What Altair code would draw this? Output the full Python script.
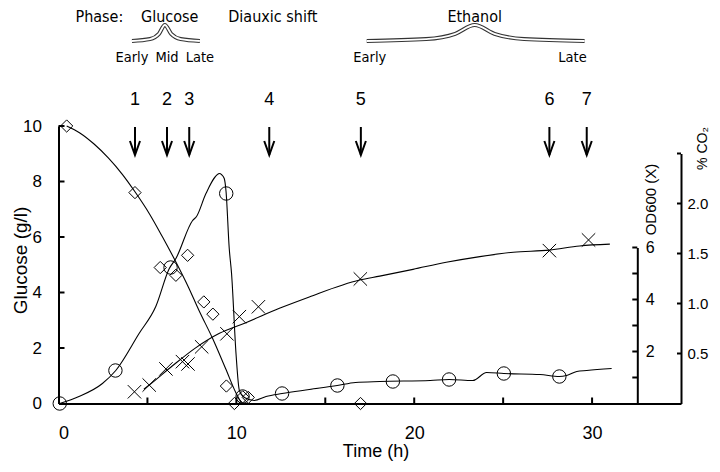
import altair as alt
import pandas as pd

# ---------------- data ----------------
# Glucose (g/l) measurements (diamonds)
glc_t = [0.46, 4.3, 5.72, 6.6, 7.26, 8.17, 8.68, 9.44, 9.89, 10.36, 10.67, 16.98]
glc_v = [10.0, 7.6, 4.9, 4.62, 5.34, 3.66, 3.22, 0.63, 0.0, 0.24, 0.22, 0.0]
# Glucose fitted curve
glc_fit_t = [0.46, 1.2, 2.0, 2.8, 3.6, 4.3, 5.1, 5.85, 6.6, 7.3, 7.9, 8.66, 9.4, 10.0, 10.3]
glc_fit_v = [10.0, 9.75, 9.35, 8.85, 8.25, 7.63, 6.85, 6.0, 5.1, 4.2, 3.35, 2.35, 1.25, 0.35, 0.0]

# CO2 (%) measurements (circles)
co2_t = [0.07, 3.2, 6.3, 9.43, 10.35, 12.57, 15.68, 18.8, 21.96, 25.04, 28.16]
co2_v = [0.0, 0.33, 1.36, 2.1, 0.07, 0.10, 0.18, 0.22, 0.24, 0.30, 0.27]
# CO2 continuous trace
co2_line_t = [0.07, 1.15, 2.47, 3.22, 4.53, 5.47, 6.23, 6.6, 7.54, 7.76, 8.29, 9.07, 9.16,
              9.32, 9.42, 9.6, 9.73, 9.98, 10.17, 10.45, 11.0, 11.67, 12.57, 14.1, 15.67,
              16.7, 18.06, 20.9, 21.96, 23.3, 24.07, 25.04, 27.07, 28.16, 28.57, 29.14, 29.7, 31.1]
co2_line_v = [0.0, 0.07, 0.2, 0.33, 0.70, 0.97, 1.35, 1.45, 1.83, 1.87, 2.1, 2.3, 2.29,
              2.25, 2.12, 1.55, 1.3, 0.5, 0.13, 0.06, 0.03, 0.07, 0.10, 0.14, 0.18,
              0.21, 0.22, 0.23, 0.24, 0.23, 0.31, 0.30, 0.29, 0.27, 0.28, 0.32, 0.33, 0.35]

# OD600 measurements (crosses)
od_t = [4.27, 5.1, 6.04, 6.97, 7.28, 8.05, 9.47, 10.17, 11.24, 16.97, 27.6, 29.8]
od_v = [0.45, 0.71, 1.33, 1.61, 1.52, 2.18, 2.68, 3.34, 3.72, 4.79, 5.88, 6.29]
# OD600 fitted curve
od_fit_t = [4.8, 5.1, 6.41, 7.73, 9.05, 10.5, 12.42, 14.1, 16.93, 18.06, 19.93, 21.8,
            23.69, 25.57, 27.6, 29.3, 31.0]
od_fit_v = [0.55, 0.71, 1.45, 2.15, 2.7, 3.1, 3.66, 4.1, 4.75, 4.9, 5.16, 5.43,
            5.65, 5.82, 5.9, 6.06, 6.13]

# Sampling points (arrows)
sample_t = [4.3, 6.1, 7.35, 11.85, 17.0, 27.6, 29.7]
sample_lbl = ["1", "2", "3", "4", "5", "6", "7"]

# Phase annotation
phase_t = [2.3, 6.25, 12.05, 23.4]
phase_lbl = ["Phase:", "Glucose", "Diauxic shift", "Ethanol"]
sub_t = [4.13, 6.1, 7.95, 17.5, 28.9]
sub_lbl = ["Early", "Mid", "Late", "Early", "Late"]
brace_phase = ["Glucose", "Ethanol"]
brace_start = [4.13, 17.33]
brace_peak = [5.98, 23.4]
brace_end = [7.95, 29.58]

# Axis tick values
x_ticks = [5, 10, 15, 20, 25, 30]
x_labels = [0, 10, 20, 30]
glc_ticks = [2, 4, 6, 8, 10]
od_ticks = [1, 2, 3, 4, 5, 6]
co2_ticks = [0.5, 1.0, 1.5, 2.0, 2.5]

# ---------------- layout ----------------
W, H = 622.5, 395.5
OD_OFF = -43.7
FONT = "Liberation Sans, Arial, Helvetica, sans-serif"
NARROW = "Liberation Sans Narrow, Arial Narrow, DejaVu Sans Condensed, sans-serif"

xsc = alt.Scale(domain=[0, 35], nice=False, zero=False)
glc_sc = alt.Scale(domain=[0, 10], range=[H, H - 277.5], nice=False)
od_sc = alt.Scale(domain=[0, 6], range=[H, H - 156], nice=False)
co2_sc = alt.Scale(domain=[0, 2.5], range=[H, H - 250], nice=False)
brace_sc = alt.Scale(domain=[0, 1], range=[33, 17], nice=False)

df_glc = pd.DataFrame({"t": glc_t, "glc": glc_v})
df_glc_fit = pd.DataFrame({"t": glc_fit_t, "glc": glc_fit_v})
df_co2 = pd.DataFrame({"t": co2_t, "co2": co2_v})
df_co2_line = pd.DataFrame({"t": co2_line_t, "co2": co2_line_v})
df_od = pd.DataFrame({"t": od_t, "od": od_v})
df_od_fit = pd.DataFrame({"t": od_fit_t, "od": od_fit_v})

x_axis = alt.Axis(orient="bottom", values=x_labels, format="d", ticks=False, tickSize=0,
                  domainColor="black", domainWidth=2, labelColor="black", labelFont=FONT,
                  labelFontSize=18, labelPadding=21, title="Time (h)", titleFont=FONT,
                  titleFontSize=18, titleFontWeight="normal", titleColor="black",
                  titleX=317, titleY=48, titleAlign="center", titleBaseline="middle", grid=False)
XE = alt.X("t:Q", scale=xsc, axis=x_axis)

glc_axis = alt.Axis(orient="left", values=[0, 2, 4, 6, 8, 10], format="d", ticks=False, tickSize=0,
                    domainColor="black", domainWidth=2, labelColor="black", labelFont=FONT,
                    labelFontSize=17, labelPadding=17, title="Glucose (g/l)", titleFont=FONT,
                    titleFontSize=19, titleFontWeight="normal", titleColor="black", titleAngle=270,
                    titleX=-38, titleY=252, titleAlign="center", titleBaseline="middle", grid=False)
od_axis = alt.Axis(orient="right", offset=OD_OFF, values=[2, 4, 6], format="d", ticks=False, tickSize=0,
                   domainColor="black", domainWidth=2, labelColor="black", labelFont=FONT,
                   labelFontSize=16, labelPadding=8, title="OD600 (X)", titleFont=FONT,
                   titleFontSize=15, titleFontWeight="normal", titleColor="black", titleAngle=270,
                   titleX=13, titleY=191, titleAlign="center", titleBaseline="middle", grid=False)
co2_axis = alt.Axis(orient="right", values=[0.5, 1.0, 1.5, 2.0], format=".1f", ticks=False, tickSize=0,
                    domainColor="black", domainWidth=2, labelColor="black", labelFont=FONT,
                    labelFontSize=15, labelPadding=6, title="% CO₂", titleFont=FONT,
                    titleFontSize=14, titleFontWeight="normal", titleColor="black", titleAngle=270,
                    titleX=21, titleY=140, titleAlign="center", titleBaseline="middle", grid=False)

# data layers
glc_pts = alt.Chart(df_glc).mark_point(shape="diamond", filled=False, size=150, color="black",
                                       strokeWidth=1, opacity=1).encode(
    x=XE, y=alt.Y("glc:Q", scale=glc_sc, axis=glc_axis))
glc_line = alt.Chart(df_glc_fit).mark_line(color="black", strokeWidth=1.1, interpolate="monotone").encode(
    x=XE, y=alt.Y("glc:Q", scale=glc_sc, axis=None))

co2_pts = alt.Chart(df_co2).mark_point(shape="circle", filled=False, size=180, color="black",
                                       strokeWidth=1, opacity=1).encode(
    x=XE, y=alt.Y("co2:Q", scale=co2_sc, axis=co2_axis))
co2_line = alt.Chart(df_co2_line).mark_line(color="black", strokeWidth=1.1, interpolate="monotone").encode(
    x=XE, y=alt.Y("co2:Q", scale=co2_sc, axis=None))

od_pts = alt.Chart(df_od).mark_point(shape="M-1,-1L1,1M-1,1L1,-1", filled=False, size=180,
                                     color="black", strokeWidth=1, opacity=1).encode(
    x=XE, y=alt.Y("od:Q", scale=od_sc, axis=od_axis))
od_line = alt.Chart(df_od_fit).mark_line(color="black", strokeWidth=1.1, interpolate="monotone").encode(
    x=XE, y=alt.Y("od:Q", scale=od_sc, axis=None))

# inward ticks
xt = alt.Chart(pd.DataFrame({"t": x_ticks})).mark_rule(color="black", strokeWidth=2).encode(
    x=XE, y=alt.value(H), y2=alt.value(H - 6))
gt = alt.Chart(pd.DataFrame({"glc": glc_ticks})).mark_rule(color="black", strokeWidth=2).encode(
    y=alt.Y("glc:Q", scale=glc_sc, axis=None), x=alt.value(0), x2=alt.value(6))
ot = alt.Chart(pd.DataFrame({"od": od_ticks})).mark_rule(color="black", strokeWidth=2).encode(
    y=alt.Y("od:Q", scale=od_sc, axis=None), x=alt.value(W + OD_OFF), x2=alt.value(W + OD_OFF - 5))
ct = alt.Chart(pd.DataFrame({"co2": co2_ticks})).mark_rule(color="black", strokeWidth=2).encode(
    y=alt.Y("co2:Q", scale=co2_sc, axis=None), x=alt.value(W), x2=alt.value(W - 4))

# arrows and numbers
df_s = pd.DataFrame({"t": sample_t, "lbl": sample_lbl})
shafts = alt.Chart(df_s).mark_rule(color="black", strokeWidth=2).encode(
    x=XE, y=alt.value(119), y2=alt.value(147))
heads = alt.Chart(df_s).mark_point(shape="M-0.36,-1L0,0L0.36,-1", filled=False, size=784,
                                   color="black", strokeWidth=2, opacity=1).encode(
    x=XE, y=alt.value(147))
nums = alt.Chart(df_s).mark_text(font=FONT, fontSize=18, color="black", baseline="middle").encode(
    x=XE, y=alt.value(92), text="lbl:N")

# phase texts
phases = alt.Chart(pd.DataFrame({"t": phase_t, "lbl": phase_lbl})).mark_text(
    font=NARROW, fontSize=16, color="black", baseline="top").encode(
    x=XE, y=alt.value(1), text="lbl:N")
subs = alt.Chart(pd.DataFrame({"t": sub_t, "lbl": sub_lbl})).mark_text(
    font=NARROW, fontSize=14.5, color="black", baseline="middle").encode(
    x=XE, y=alt.value(50), text="lbl:N")

# braces
lift_frac = [0.0, 0.55, 0.82, 1.0]
lift_val = [0.0, 0.12, 0.45, 1.0]
rows = []
for ph, s, p, e in zip(brace_phase, brace_start, brace_peak, brace_end):
    for f, v in zip(lift_frac, lift_val):
        rows.append({"phase": ph, "t": s + f * (p - s), "lift": v, "o": f})
    for f, v in zip(reversed(lift_frac[:-1]), reversed(lift_val[:-1])):
        rows.append({"phase": ph, "t": e - f * (e - p), "lift": v, "o": 2 - f})
df_b = pd.DataFrame(rows)
brace_outer = alt.Chart(df_b).mark_line(color="#333333", strokeWidth=4, interpolate="monotone").encode(
    x=XE, y=alt.Y("lift:Q", scale=brace_sc, axis=None), detail="phase:N", order="o:Q")
brace_inner = alt.Chart(df_b).mark_line(color="white", strokeWidth=1.8, interpolate="monotone").encode(
    x=XE, y=alt.Y("lift:Q", scale=brace_sc, axis=None), detail="phase:N", order="o:Q")

chart = alt.layer(
    glc_pts, glc_line, co2_pts, co2_line, od_pts, od_line,
    xt, gt, ot, ct, shafts, heads, nums, phases, subs, brace_outer, brace_inner
).resolve_scale(y="independent").properties(
    width=W, height=H, autosize="none",
    padding={"left": 50.5, "top": 0, "right": 31, "bottom": 60},
).configure_view(stroke=None)

chart.save("out.html", embed_options={"renderer": "svg", "actions": False})
